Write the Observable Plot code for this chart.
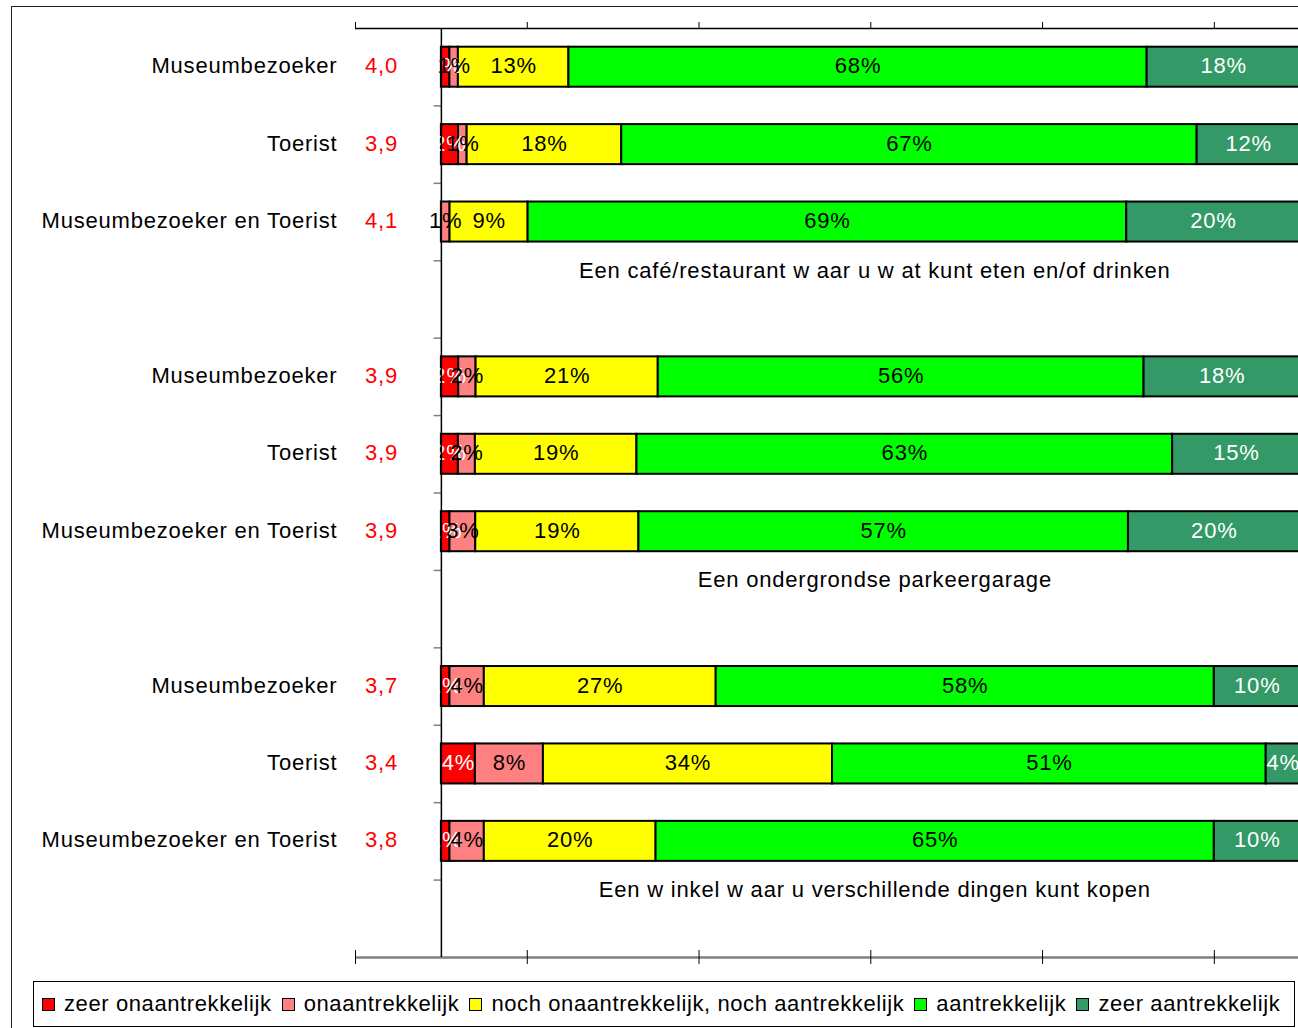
<!DOCTYPE html>
<html><head><meta charset="utf-8">
<script src="https://cdn.jsdelivr.net/npm/d3@7"></script>
<script src="https://cdn.jsdelivr.net/npm/@observablehq/plot@0.6"></script>
<style>
body{margin:0;background:#fff;font-family:"Liberation Sans",Arial,sans-serif;}
#wrap{position:relative;width:1298px;height:1028px;overflow:hidden;background:#fff;}
#frame{position:absolute;left:11px;top:6px;width:1320px;height:1040px;border-left:1px solid #222;border-top:1px solid #222;z-index:2;pointer-events:none;}
#chart{position:absolute;left:0;top:0;z-index:1;}
#chart svg text{letter-spacing:0.8px}
#legend{position:absolute;left:33px;top:981px;width:1262px;height:46px;border:1px solid #000;display:flex;align-items:center;font-size:22px;letter-spacing:0.6px;padding-left:8px;box-sizing:border-box;color:#000;z-index:1;background:#fff;}
.item{display:flex;align-items:center;margin-right:10px;white-space:nowrap}
.sw{width:11px;height:11px;border:1.5px solid #000;margin-right:9px}
</style></head><body>
<div id="wrap"><div id="chart"></div><div id="legend"></div><div id="frame"></div></div>
<script>
// ---- data ----
const groupTitles = [
  "Een café/restaurant w aar u w at kunt eten en/of drinken",
  "Een ondergrondse parkeergarage",
  "Een w inkel w aar u verschillende dingen kunt kopen"
];
const respondents = ["Museumbezoeker", "Toerist", "Museumbezoeker en Toerist"];
const categories = ["zeer onaantrekkelijk", "onaantrekkelijk", "noch onaantrekkelijk, noch aantrekkelijk", "aantrekkelijk", "zeer aantrekkelijk"];
const colors = ["#ff0000", "#ff8080", "#ffff00", "#00ff00", "#339966"];
const labelColors = ["#ffffff", "#000000", "#000000", "#000000", "#ffffff"];
const means = [
  [4.0, 3.9, 4.1],
  [3.9, 3.9, 3.9],
  [3.7, 3.4, 3.8]
];
// percentages per group, per respondent, per category
const cafeValues    = [[1, 1, 13, 68, 18], [2, 1, 18, 67, 12], [0, 1, 9, 69, 20]];
const garageValues  = [[2, 2, 21, 56, 18], [2, 2, 19, 63, 15], [1, 3, 19, 57, 20]];
const winkelValues  = [[1, 4, 27, 58, 10], [4, 8, 34, 51, 4], [1, 4, 20, 65, 10]];
const groupValues = [cafeValues, garageValues, winkelValues];
const xTicks = [-10, 10, 30, 50, 70, 90];

// ---- build tables (100% stacked) ----
const rows = [];
const segs = [];
groupValues.forEach((gv, g) => {
  gv.forEach((vals, r) => {
    const slot = g * 4 + r;
    rows.push({slot, resp: respondents[r], mean: means[g][r]});
    const total = d3.sum(vals);
    let acc = 0;
    vals.forEach((v, c) => {
      segs.push({slot, c, value: v, x1: acc / total * 100, x2: (acc + v) / total * 100, fill: colors[c], lab: labelColors[c]});
      acc += v;
    });
  });
});
const titles = groupTitles.map((t, g) => ({text: t, slot: g * 4 + 3}));
const labelSegs = segs.filter(d => d.value > 0).sort((a, b) => a.c - b.c);
const fmtMean = v => d3.format(".1f")(v).replace(".", ",");

const chart = Plot.plot({
  width: 1298, height: 975,
  marginLeft: 355, marginRight: 0, marginTop: 28, marginBottom: 18,
  x: {domain: [-10, 99.8], axis: null},
  y: {domain: [0, 12], reverse: true, axis: null},
  color: {type: "identity"},
  style: {fontFamily: "'Liberation Sans', Arial, sans-serif", fontSize: "22px", background: "white", color: "#000"},
  marks: [
    Plot.rectX(segs, {x1: "x1", x2: "x2", y1: "slot", y2: d => d.slot + 1, fill: "fill", stroke: "#000", strokeWidth: 2, insetTop: 18.7, insetBottom: 18.7}),
    Plot.text(labelSegs, {x: d => (d.x1 + d.x2) / 2, y: d => d.slot + 0.5, dy: -1, text: d => d.value + "%", fill: "lab", fontSize: 22}),
    Plot.text(rows, {frameAnchor: "left", y: d => d.slot + 0.5, dy: -1, text: "resp", textAnchor: "end", dx: -18, fill: "#000", fontSize: 22}),
    Plot.text(rows, {frameAnchor: "left", y: d => d.slot + 0.5, dy: -1, text: d => fmtMean(d.mean), textAnchor: "middle", dx: 26, fill: "#ff0000", fontSize: 22}),
    Plot.text(titles, {x: 50, y: "slot", dy: 10, dx: 4, text: "text", fill: "#000", fontSize: 22}),
    Plot.ruleY([0], {stroke: "#000", strokeWidth: 1.5}),
    Plot.ruleY([12], {stroke: "#808080", strokeWidth: 2.5}),
    Plot.ruleY(d3.range(1, 12), {x1: -0.85, x2: 0, stroke: "#808080", strokeWidth: 1.5}),
    Plot.ruleX([0], {stroke: "#000", strokeWidth: 1.5}),
    Plot.axisX({anchor: "top", ticks: xTicks, tickSize: 7, tickFormat: () => "", stroke: "#000"}),
    Plot.ruleX(xTicks, {y1: 11.91, y2: 12.09, stroke: "#000", strokeWidth: 1})
  ]
});
document.getElementById("chart").appendChild(chart);

const legend = d3.select("#legend");
categories.forEach((c, i) => {
  const it = legend.append("div").attr("class", "item");
  it.append("div").attr("class", "sw").style("background", colors[i]);
  it.append("span").text(c);
});
</script>
</body></html>
